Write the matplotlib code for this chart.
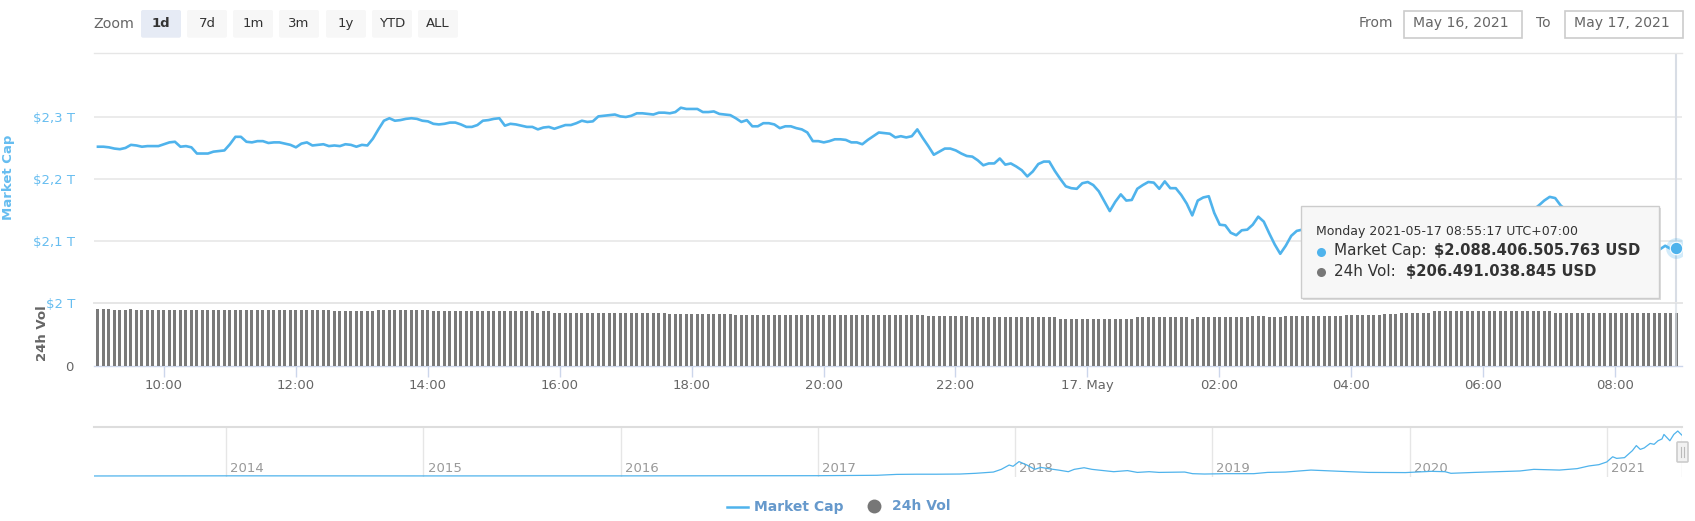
import matplotlib
matplotlib.use('Agg')
import matplotlib.pyplot as plt
import matplotlib.dates as mdates
from matplotlib.patches import FancyBboxPatch, Rectangle
import pandas as pd

nan = float('nan')

# Values, one per 5 minutes (trillion USD, nan = hidden by the tooltip)
market_cap = [
    2.252, 2.252, 2.251, 2.249, 2.248, 2.250, 2.255, 2.254, 2.252, 2.253,
    2.253, 2.253, 2.256, 2.259, 2.260, 2.252, 2.253, 2.251, 2.241, 2.241,
    2.241, 2.244, 2.245, 2.246, 2.256, 2.268, 2.268, 2.260, 2.259, 2.261,
    2.261, 2.258, 2.259, 2.259, 2.257, 2.255, 2.251, 2.257, 2.259, 2.254,
    2.255, 2.256, 2.253, 2.254, 2.253, 2.256, 2.255, 2.252, 2.255, 2.254,
    2.265, 2.280, 2.294, 2.298, 2.294, 2.295, 2.297, 2.298, 2.297, 2.294,
    2.293, 2.289, 2.288, 2.289, 2.291, 2.291, 2.288, 2.284, 2.284, 2.287,
    2.294, 2.295, 2.297, 2.298, 2.286, 2.289, 2.288, 2.286, 2.284, 2.284,
    2.280, 2.283, 2.284, 2.281, 2.284, 2.287, 2.287, 2.290, 2.294, 2.292,
    2.293, 2.301, 2.302, 2.303, 2.304, 2.301, 2.300, 2.302, 2.306, 2.306,
    2.305, 2.304, 2.307, 2.307, 2.306, 2.308, 2.315, 2.313, 2.313, 2.313,
    2.308, 2.308, 2.309, 2.305, 2.304, 2.303, 2.298, 2.292, 2.295, 2.285,
    2.285, 2.290, 2.290, 2.288, 2.282, 2.285, 2.285, 2.282, 2.280, 2.275,
    2.261, 2.261, 2.259, 2.261, 2.264, 2.264, 2.263, 2.259, 2.259, 2.256,
    2.263, 2.269, 2.275, 2.274, 2.273, 2.267, 2.269, 2.267, 2.269, 2.280,
    2.266, 2.253, 2.239, 2.244, 2.249, 2.249, 2.246, 2.241, 2.237, 2.236,
    2.230, 2.222, 2.225, 2.225, 2.233, 2.223, 2.225, 2.220, 2.214, 2.204,
    2.212, 2.224, 2.228, 2.228, 2.213, 2.200, 2.188, 2.185, 2.184, 2.193,
    2.195, 2.190, 2.180, 2.164, 2.148, 2.163, 2.175, 2.165, 2.166, 2.184,
    2.190, 2.195, 2.194, 2.184, 2.196, 2.185, 2.185, 2.174, 2.160, 2.141,
    2.165, 2.170, 2.172, 2.145, 2.126, 2.125, 2.113, 2.109, 2.117, 2.118,
    2.126, 2.139, 2.131, 2.112, 2.094, 2.079, 2.092, 2.108, 2.116, 2.118,
    nan, nan, nan, nan, nan, nan, nan, nan, nan, nan,
    nan, nan, nan, nan, nan, nan, nan, nan, nan, nan,
    nan, nan, nan, nan, nan, nan, nan, nan, nan, nan,
    nan, nan, nan, nan, nan, nan, nan, nan, nan, nan,
    nan, 2.150, 2.157, 2.165, 2.171, 2.169, 2.157, 2.150, nan, nan,
    nan, nan, nan, nan, nan, nan, nan, nan, nan, nan,
    nan, nan, nan, 2.085, 2.086, 2.092, 2.087, 2.0884,
]

# 24h volume per bar (billion USD)
volume = [
    221, 221, 221, 217, 217, 217, 221, 217, 217, 217, 217, 217, 217, 217, 217, 217,
    217, 217, 217, 217, 217, 217, 217, 217, 217, 217, 217, 217, 217, 217, 217, 217,
    217, 217, 217, 217, 217, 217, 217, 217, 217, 217, 217, 212, 215, 212, 212, 212,
    212, 212, 212, 217, 217, 217, 217, 217, 217, 217, 217, 217, 217, 212, 212, 212,
    212, 212, 212, 212, 212, 212, 212, 212, 212, 212, 212, 212, 212, 212, 212, 212,
    207, 212, 212, 207, 207, 207, 207, 207, 207, 207, 207, 207, 207, 207, 207, 207,
    207, 207, 207, 207, 207, 207, 207, 207, 202, 202, 202, 202, 202, 202, 202, 202,
    202, 202, 202, 202, 197, 197, 197, 197, 197, 197, 197, 197, 197, 197, 197, 197,
    197, 197, 197, 197, 197, 197, 197, 197, 197, 197, 197, 197, 197, 197, 197, 197,
    197, 197, 197, 197, 197, 197, 197, 192, 192, 192, 192, 192, 192, 192, 192, 188,
    188, 188, 188, 188, 188, 188, 188, 188, 188, 188, 188, 188, 188, 188, 188, 183,
    183, 183, 183, 183, 183, 183, 183, 183, 183, 183, 183, 183, 183, 188, 188, 188,
    188, 188, 188, 188, 188, 188, 188, 183, 188, 188, 188, 188, 188, 188, 188, 188,
    188, 188, 192, 192, 192, 188, 188, 188, 192, 192, 192, 192, 192, 192, 192, 192,
    192, 192, 192, 197, 197, 197, 197, 197, 197, 197, 202, 202, 202, 207, 207, 207,
    207, 207, 207, 213, 213, 213, 213, 213, 213, 213, 213, 213, 213, 213, 213, 213,
    213, 213, 213, 213, 213, 213, 213, 213, 213, 207, 207, 207, 207, 207, 207, 207,
    207, 207, 207, 207, 207, 207, 207, 207, 207, 207, 207, 207, 207, 207, 207, 207,
]

# Navigator overview: decimal year and market cap (trillion USD)
nav_years = [2013.33, 2014.0, 2015.0, 2016.0, 2017.0, 2017.3, 2017.4, 2017.5, 2017.6, 2017.72,
             2017.80, 2017.89, 2017.93, 2017.97, 2017.99, 2018.02, 2018.06, 2018.10, 2018.13, 2018.18,
             2018.22, 2018.27, 2018.30, 2018.35, 2018.39, 2018.44, 2018.50, 2018.57, 2018.62, 2018.68,
             2018.73, 2018.86, 2018.90, 2018.96, 2019.07, 2019.21, 2019.28, 2019.37, 2019.50, 2019.65,
             2019.79, 2019.98, 2020.11, 2020.18, 2020.21, 2020.33, 2020.56, 2020.63, 2020.76, 2020.85,
             2020.91, 2020.96, 2021.00, 2021.03, 2021.05, 2021.09, 2021.13, 2021.15, 2021.17, 2021.19,
             2021.22, 2021.24, 2021.26, 2021.28, 2021.29, 2021.32, 2021.34, 2021.36, 2021.38]
nav_caps = [0.002, 0.010, 0.005, 0.007, 0.018, 0.04, 0.09, 0.10, 0.10, 0.11,
            0.15, 0.22, 0.37, 0.61, 0.54, 0.80, 0.61, 0.37, 0.48, 0.39,
            0.33, 0.24, 0.37, 0.46, 0.37, 0.31, 0.24, 0.30, 0.20, 0.24,
            0.20, 0.22, 0.13, 0.11, 0.13, 0.13, 0.20, 0.22, 0.33, 0.26,
            0.20, 0.19, 0.26, 0.24, 0.15, 0.20, 0.28, 0.37, 0.33, 0.41,
            0.56, 0.63, 0.78, 1.07, 0.98, 1.02, 1.41, 1.69, 1.48, 1.56,
            1.81, 1.76, 1.96, 2.06, 2.31, 1.96, 2.31, 2.50, 2.28]

year_ticks = [2014, 2015, 2016, 2017, 2018, 2019, 2020, 2021]
zoom_buttons = ['1d', '7d', '1m', '3m', '1y', 'YTD', 'ALL']
cap_ticks = [2.0, 2.1, 2.2, 2.3]
cap_tick_labels = ['$2 T', '$2,1 T', '$2,2 T', '$2,3 T']

W, H = 1695, 521
BLUE = '#4fb3ec'
LABEL_BLUE = '#66bdf0'
GRID = '#e6e6e6'
GREY = '#666666'


def panel(left, top, right, bottom):
    return fig.add_axes([left / W, 1 - bottom / H, (right - left) / W, (bottom - top) / H])


fig = plt.figure(figsize=(W / 100, H / 100), dpi=100)

times = pd.date_range('2021-05-16 09:00:17', periods=len(market_cap), freq='5min')
t = mdates.date2num(times)
x_start = mdates.date2num(pd.Timestamp('2021-05-16 08:56:42'))
x_end = mdates.date2num(pd.Timestamp('2021-05-17 09:00:18'))

# Market cap panel
ax = panel(94, 53, 1681.7, 302.7)
ax.plot(t, market_cap, color=BLUE, lw=1.9, solid_joinstyle='round', zorder=3)
ax.set_xlim(x_start, x_end)
ax.set_ylim(2.0, 2.4034)
ax.set_yticks(cap_ticks, cap_tick_labels)
ax.tick_params(axis='y', length=0, pad=13.5, labelsize=9.5, labelcolor=LABEL_BLUE)
ax.tick_params(axis='x', bottom=False, labelbottom=False)
ax.grid(axis='y', color=GRID, lw=1.1)
ax.set_axisbelow(True)
for s in ['left', 'right', 'bottom']:
    ax.spines[s].set_visible(False)
ax.spines['top'].set_color(GRID)
ax.spines['top'].set_linewidth(1.0)
ax.patch.set_alpha(0)
ax.axvline(t[-1], color='#d8dde5', lw=1.5, zorder=2)
ax.plot(t[-1], market_cap[-1], 'o', ms=15, color=BLUE, alpha=0.25, mec='none', zorder=4)
ax.plot(t[-1], market_cap[-1], 'o', ms=9, color=BLUE, mec='white', mew=0.8, zorder=5)

# Volume panel
ax_vol = panel(94, 302.7, 1681.7, 365.7)
ax_vol.bar(t, volume, width=2.8 / 1440, color='#7a7a7a', zorder=3)
ax_vol.set_xlim(x_start, x_end)
ax_vol.set_ylim(0, 245.7)
ax_vol.set_yticks([0], ['0'])
ax_vol.tick_params(axis='y', length=0, pad=15, labelsize=9.5, labelcolor=GREY)
tick_times = pd.date_range('2021-05-16 10:00', periods=12, freq='2h')
tick_labels = [d.strftime('%H:%M') for d in tick_times]
tick_labels[7] = '17. May'
ax_vol.set_xticks(mdates.date2num(tick_times), tick_labels)
ax_vol.tick_params(axis='x', length=8, width=1, color='#ccd6eb', pad=1.5, labelsize=9.5, labelcolor=GREY)
for s in ['left', 'right']:
    ax_vol.spines[s].set_visible(False)
ax_vol.spines['top'].set_color(GRID)
ax_vol.spines['top'].set_linewidth(1.4)
ax_vol.spines['bottom'].set_color('#ccd6eb')
ax_vol.spines['bottom'].set_linewidth(1.0)
ax_vol.axvline(t[-1], color='#d8dde5', lw=1.5, zorder=4, alpha=0.7)

# Navigator
ax_nav = panel(94, 426.7, 1681.7, 477)
ax_nav.plot(nav_years, nav_caps, color=BLUE, lw=0.9, zorder=3)
ax_nav.set_xlim(2013.33, 2021.38)
ax_nav.set_ylim(-0.055, 2.74)
ax_nav.set_xticks(year_ticks, [])
ax_nav.set_yticks([])
ax_nav.tick_params(axis='x', length=0)
ax_nav.grid(axis='x', color=GRID, lw=1.0)
ax_nav.set_axisbelow(True)
for s in ['left', 'right', 'bottom']:
    ax_nav.spines[s].set_visible(False)
ax_nav.spines['top'].set_color('#dddddd')
ax_nav.spines['top'].set_linewidth(1.5)
ax_nav.axvline(2021.38, color=GRID, lw=1.0)
for yr in year_ticks:
    ax_nav.annotate(str(yr), (yr, 0), xytext=(3, 3), textcoords='offset points',
                    fontsize=9.5, color='#999999', zorder=2)

# Everything drawn in pixel coordinates on top: buttons, labels, tooltip, legend
ui = fig.add_axes([0, 0, 1, 1], zorder=10)
ui.set_xlim(0, W)
ui.set_ylim(H, 0)
ui.axis('off')
ui.patch.set_alpha(0)

ui.text(93.5, 24, 'Zoom', fontsize=10.3, color=GREY, va='center')
btn_left = [141, 187, 233, 279, 326, 372, 418]
for name, bx in zip(zoom_buttons, btn_left):
    active = name == '1d'
    ui.add_patch(FancyBboxPatch((bx, 10), 40, 27.7, boxstyle='round,pad=0,rounding_size=2',
                                fc='#e6ebf5' if active else '#f7f7f7', ec='none'))
    ui.text(bx + 20, 23.5, name, ha='center', va='center', fontsize=9.5, color='#333333',
            fontweight='bold' if active else 'normal')

ui.text(1358.5, 23, 'From', fontsize=10, color=GREY, va='center')
ui.text(1536, 23, 'To', fontsize=10, color=GREY, va='center')
for bx, label in [(1404, 'May 16, 2021'), (1565, 'May 17, 2021')]:
    ui.add_patch(Rectangle((bx, 11), 118, 26.5, fc='white', ec='#cccccc', lw=1.2))
    ui.text(bx + 9, 23, label, fontsize=10.1, color=GREY, va='center')

ui.text(9, 177, 'Market Cap', rotation=90, fontsize=9.5, fontweight='bold', color=LABEL_BLUE,
        ha='center', va='center')
ui.text(42, 333, '24h Vol', rotation=90, fontsize=9.5, fontweight='bold', color=GREY,
        ha='center', va='center')

# Tooltip
ui.add_patch(Rectangle((1302.5, 207.5), 358, 92, fc='#cfcfcf', ec='none', alpha=0.7))
ui.add_patch(Rectangle((1301, 206), 358, 92, fc='#f7f7f7', ec='#cccccc', lw=1.0))
ui.text(1315.5, 232, 'Monday 2021-05-17 08:55:17 UTC+07:00', fontsize=9.0, color='#333333', va='center')
ui.plot(1321, 252, 'o', ms=6.5, color=BLUE, mec='none')
ui.text(1333.5, 251, 'Market Cap:', fontsize=11, color='#333333', va='center')
ui.text(1434.5, 251, '$2.088.406.505.763 USD', fontsize=10.6, fontweight='bold', color='#333333', va='center')
ui.plot(1321, 272, 'o', ms=6.5, color='#777777', mec='none')
ui.text(1333.5, 271.5, '24h Vol:', fontsize=11, color='#333333', va='center')
ui.text(1406, 271.5, '$206.491.038.845 USD', fontsize=10.6, fontweight='bold', color='#333333', va='center')

# Navigator handle
ui.add_patch(FancyBboxPatch((1677, 442), 11, 20, boxstyle='round,pad=0,rounding_size=1',
                            fc='#f2f2f2', ec='#cccccc', lw=1.2))
ui.plot([1681, 1681], [447, 457], color='#bbbbbb', lw=0.8)
ui.plot([1684, 1684], [447, 457], color='#bbbbbb', lw=0.8)

# Legend
ui.plot([726.5, 748], [506.5, 506.5], color=BLUE, lw=1.8)
ui.text(754.5, 506.5, 'Market Cap', fontsize=10, fontweight='bold', color='#6699cc', va='center')
ui.plot(874, 505.5, 'o', ms=10, color='#777777', mec='none')
ui.text(892, 506.5, '24h Vol', fontsize=10, fontweight='bold', color='#6699cc', va='center')

plt.savefig('out.png', dpi=100)
plt.close()
